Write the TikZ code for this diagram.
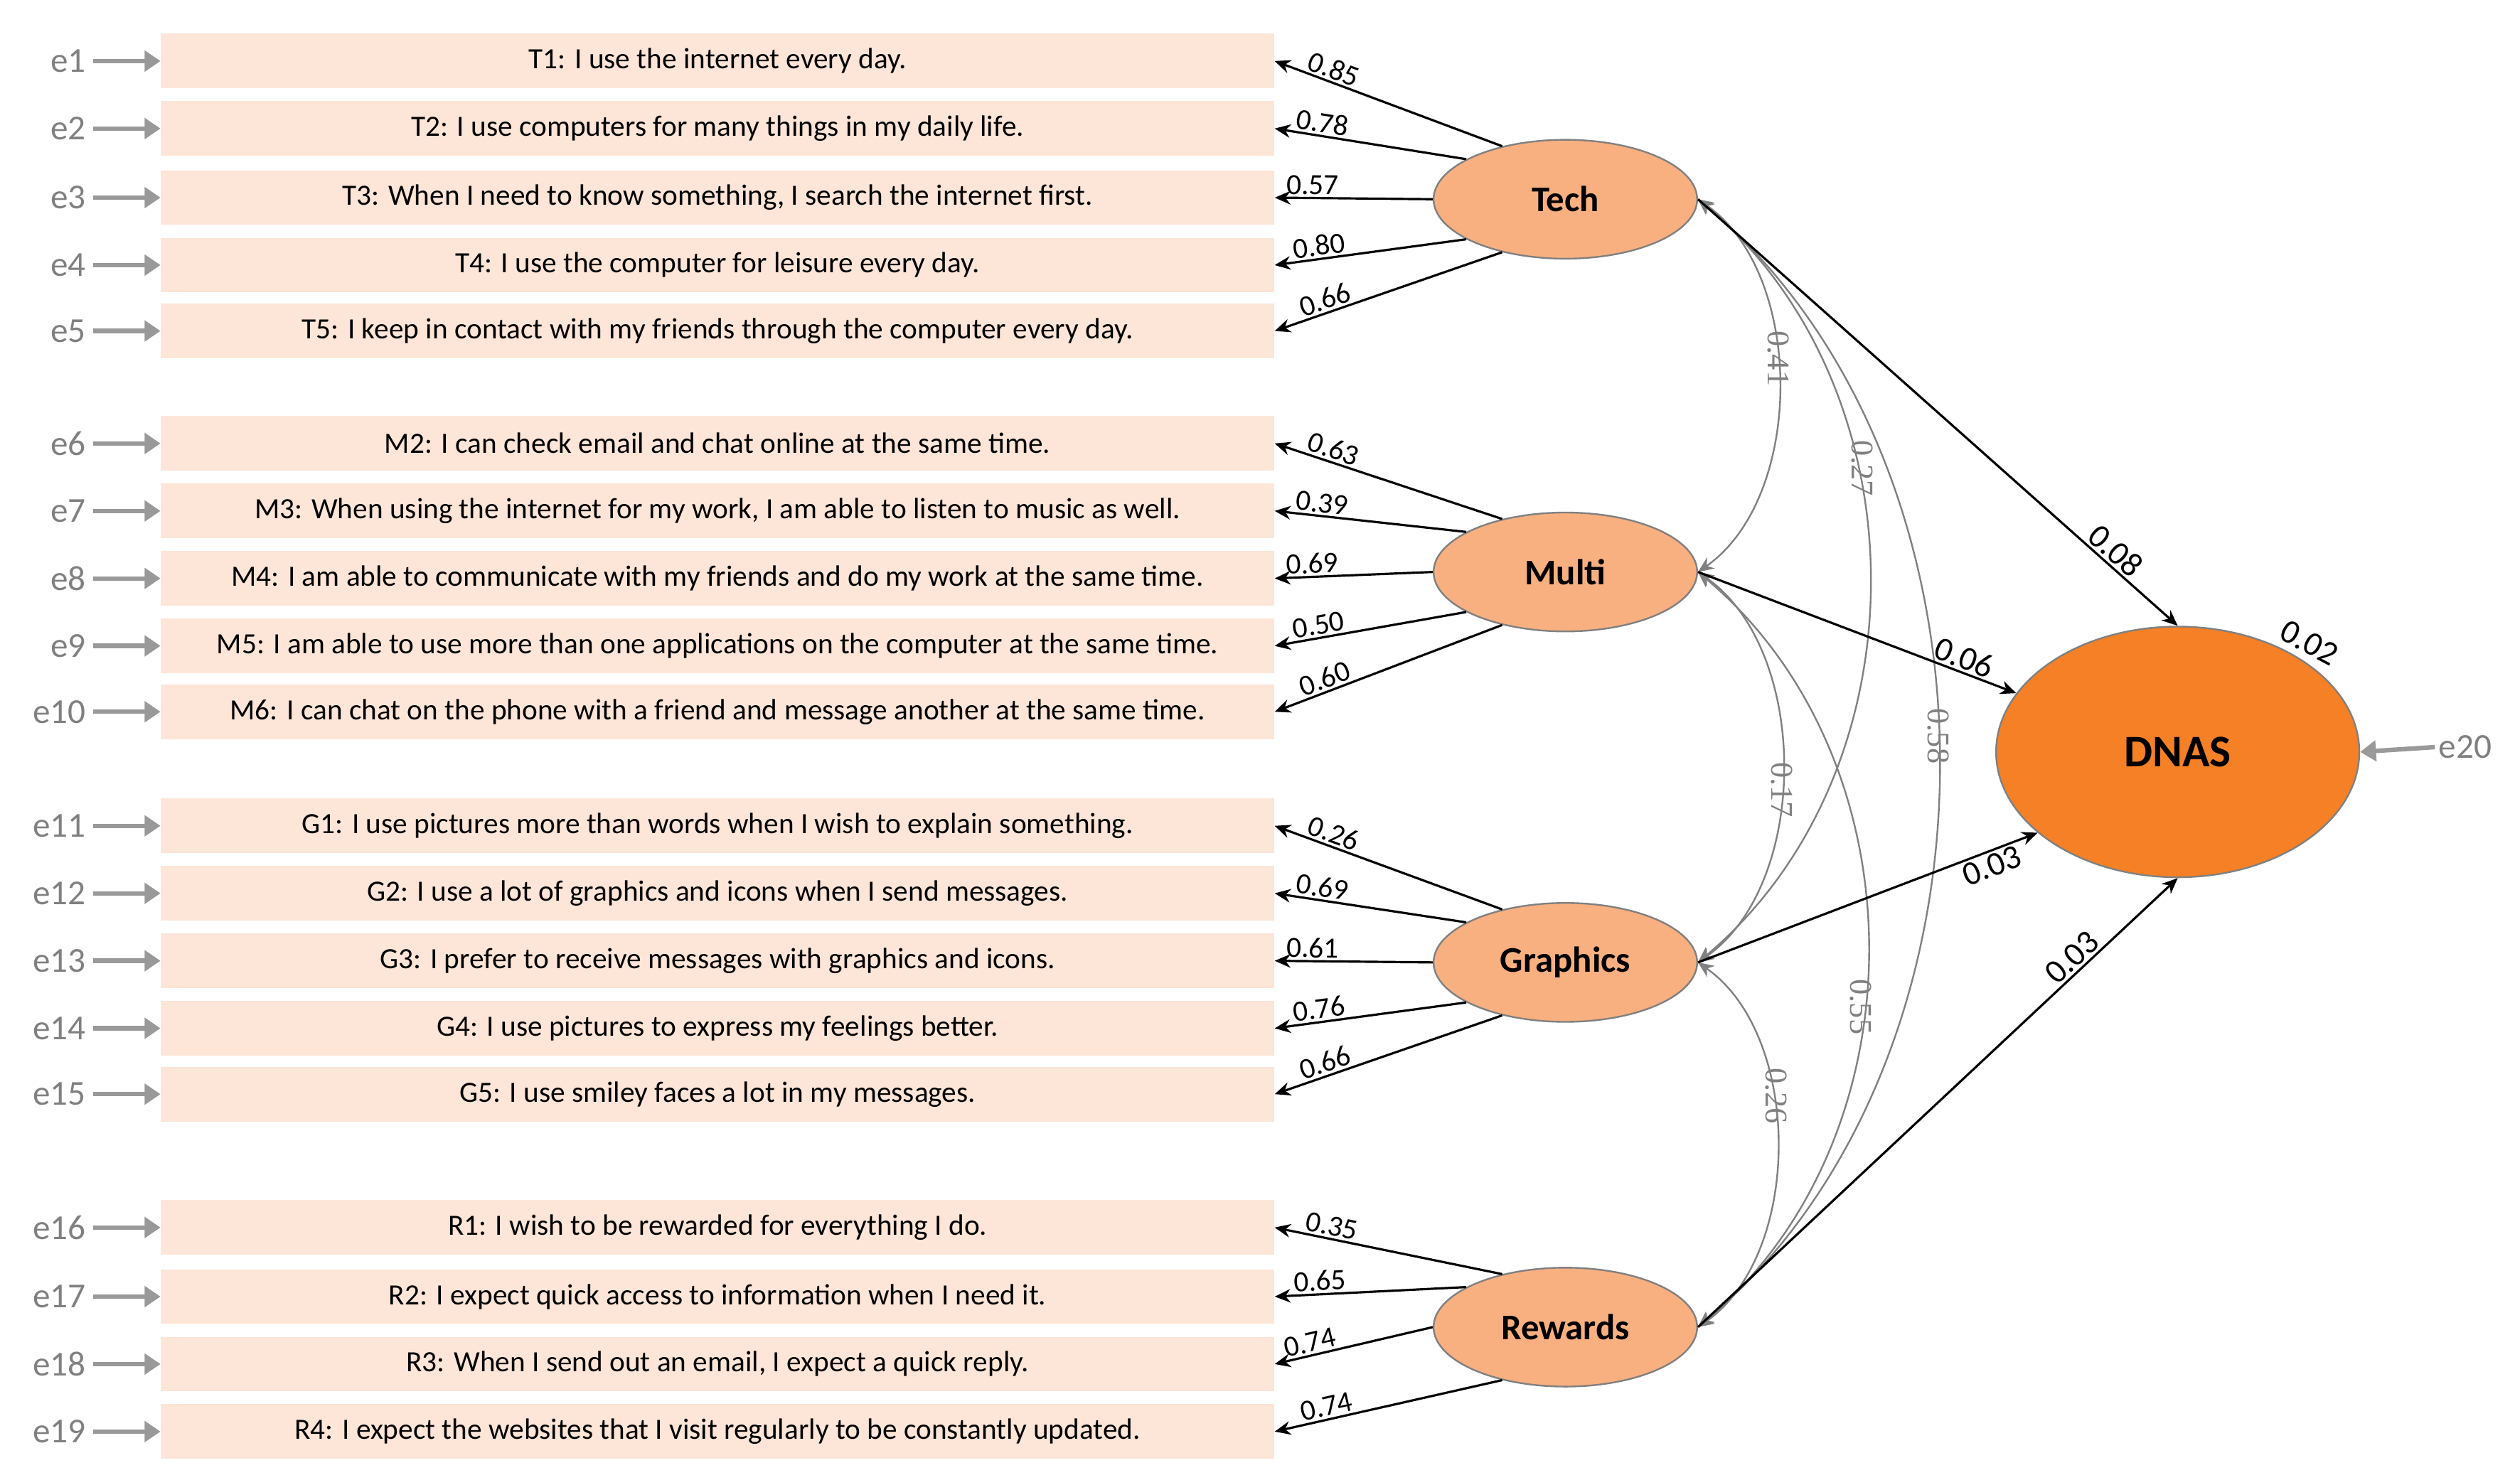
\documentclass[tikz,border=0pt]{standalone}
\usepackage{fontspec}
\setmainfont{Carlito}
\newfontfamily\numfont{Liberation Serif}
\usetikzlibrary{shapes.geometric,arrows.meta}
\definecolor{itemfill}{HTML}{FDE5D7}
\definecolor{latfill}{HTML}{F9B080}
\definecolor{dnasfill}{HTML}{F58025}
\tikzset{
  item/.style={fill=itemfill, minimum width=693*0.05cm, minimum height=34*0.05cm, inner sep=0pt, font=\fontsize{26}{28}\selectfont},
  err/.style={anchor=east, text=gray, font=\fontsize{31}{33}\selectfont, inner sep=2pt},
  errarrow/.style={draw=gray!80, line width=4pt, -{Triangle[length=14pt,width=18pt]}},
  latent/.style={ellipse, draw=gray, line width=1.5pt, fill=latfill, minimum width=164*0.05cm, minimum height=74*0.05cm, font=\bfseries\fontsize{32}{34}\selectfont},
  load/.style={line width=2pt, -{Stealth[length=14pt,width=12pt]}},
  lbl/.style={font=\fontsize{26}{28}\selectfont, above, sloped, inner sep=2pt},
  cov/.style={draw=gray, line width=1.5pt, {Stealth[length=14pt,width=12pt]}-{Stealth[length=14pt,width=12pt]}},
  covlbl/.style={text=gray, font=\numfont\fontsize{28}{30}\selectfont, rotate=-90, anchor=center}
}
\begin{document}
\begin{tikzpicture}[x=0.05cm,y=-0.05cm]
   \useasboundingbox (0,0) rectangle (1568,921);

   % observed items
   \foreach \n/\y/\t in {t1/38/{T1: I use the internet every day.},
      t2/80/{T2: I use computers for many things in my daily life.},
      t3/123/{T3: When I need to know something, I search the internet first.},
      t4/165/{T4: I use the computer for leisure every day.},
      t5/206/{T5: I keep in contact with my friends through the computer every day.},
      m2/276/{M2: I can check email and chat online at the same time.},
      m3/318/{M3: When using the internet for my work, I am able to listen to music as well.},
      m4/360/{M4: I am able to communicate with my friends and do my work at the same time.},
      m5/402/{M5: I am able to use more than one applications on the computer at the same time.},
      m6/443/{M6: I can chat on the phone with a friend and message another at the same time.},
      g1/514/{G1: I use pictures more than words when I wish to explain something.},
      g2/556/{G2: I use a lot of graphics and icons when I send messages.},
      g3/598/{G3: I prefer to receive messages with graphics and icons.},
      g4/640/{G4: I use pictures to express my feelings better.},
      g5/681/{G5: I use smiley faces a lot in my messages.},
      r1/764/{R1: I wish to be rewarded for everything I do.},
      r2/807/{R2: I expect quick access to information when I need it.},
      r3/849/{R3: When I send out an email, I expect a quick reply.},
      r4/891/{R4: I expect the websites that I visit regularly to be constantly updated.}}
      \node[item] (\n) at (446.5,\y) {\t};

   % error terms
   \foreach \e/\n [count=\i] in {e1/t1,e2/t2,e3/t3,e4/t4,e5/t5,e6/m2,e7/m3,e8/m4,e9/m5,e10/m6,
      e11/g1,e12/g2,e13/g3,e14/g4,e15/g5,e16/r1,e17/r2,e18/r3,e19/r4}{
      \node[err] (\e) at (55,0 |- \n) {\e};
      \draw[errarrow] ([xshift=4pt]\e.east) -- (\n.west);
   }

   % latent variables
   \node[latent] (Tech) at (974,124) {Tech};
   \node[latent] (Multi) at (974,356) {Multi};
   \node[latent] (Graphics) at (974,599) {Graphics};
   \node[latent] (Rewards) at (974,826) {Rewards};
   \node[ellipse, draw=gray, line width=1.5pt, fill=dnasfill, minimum width=226*0.05cm, minimum height=156*0.05cm,
      font=\bfseries\fontsize{40}{42}\selectfont] (DNAS) at (1355,468) {DNAS};
   \node[text=gray, font=\fontsize{31}{33}\selectfont, anchor=west] (e20) at (1515,465) {e20};
   \draw[errarrow] (e20.west) -- (DNAS.east);
   \node[font=\fontsize{30}{32}\selectfont, rotate=-28] (r2dnas) at (1437,400) {0.02};

   % loadings
   \foreach \f/\n/\a/\v in {Tech/t1/140/0.85, Tech/t2/158/0.78, Tech/t3/180/0.57, Tech/t4/202/0.80, Tech/t5/220/0.66,
      Multi/m2/140/0.63, Multi/m3/158/0.39, Multi/m4/180/0.69, Multi/m5/202/0.50, Multi/m6/220/0.60,
      Graphics/g1/140/0.26, Graphics/g2/158/0.69, Graphics/g3/180/0.61, Graphics/g4/202/0.76, Graphics/g5/220/0.66,
      Rewards/r1/140/0.35, Rewards/r2/158/0.65, Rewards/r3/180/0.74, Rewards/r4/220/0.74}
      \draw[load] (\f.\a) -- (\n.east) node[lbl, pos=0.76] {\v};

   % covariances
   \draw[cov] (Tech.east) to[out=-35, in=35, looseness=0.9] node[covlbl, pos=0.5, xshift=-24pt] {0.41} (Multi.east);
   \draw[cov] (Tech.east) to[out=-40, in=40, looseness=1.0] node[covlbl, pos=0.4, xshift=-24pt] {0.27} (Graphics.east);
   \draw[cov] (Tech.east) to[out=-40, in=40, looseness=0.95] node[covlbl, pos=0.5, xshift=-24pt] {0.58} (Rewards.east);
   \draw[cov] (Multi.east) to[out=-35, in=35, looseness=0.9] node[covlbl, pos=0.5, xshift=20pt] {0.17} (Graphics.east);
   \draw[cov] (Multi.east) to[out=-40, in=40, looseness=1.0] node[covlbl, pos=0.6, xshift=-24pt] {0.55} (Rewards.east);
   \draw[cov] (Graphics.east) to[out=-35, in=35, looseness=0.9] node[covlbl, pos=0.45, xshift=-24pt] {0.26} (Rewards.east);

   % paths to DNAS
   \draw[load] (Tech.east) -- (DNAS.north) node[lbl, pos=0.85] {\fontsize{30}{32}\selectfont 0.08};
   \draw[load] (Multi.east) -- (DNAS.160) node[lbl, pos=0.82] {\fontsize{30}{32}\selectfont 0.06};
   \draw[load] (Graphics.east) -- (DNAS.210) node[lbl, pos=0.85, below] {\fontsize{30}{32}\selectfont 0.03};
   \draw[load] (Rewards.east) -- (DNAS.south) node[lbl, pos=0.8] {\fontsize{30}{32}\selectfont 0.03};
\end{tikzpicture}
\end{document}
